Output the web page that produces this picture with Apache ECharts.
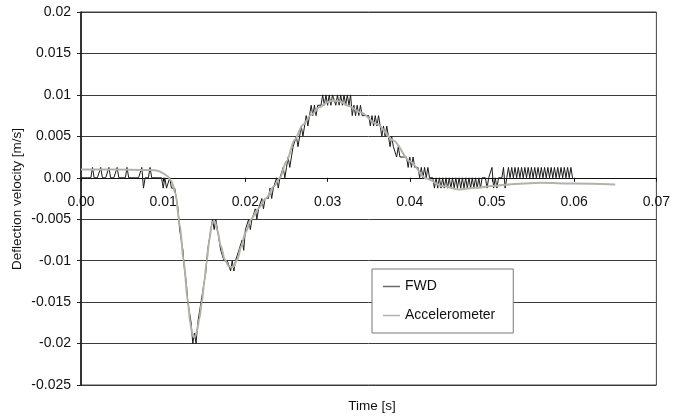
<!DOCTYPE html>
<html>
<head>
<meta charset="utf-8">
<script src="https://cdn.jsdelivr.net/npm/echarts@6/dist/echarts.min.js"></script>
<style>
  html, body { margin: 0; padding: 0; background: #ffffff; }
  #chart { width: 673px; height: 416px; }
</style>
</head>
<body>
<div id="chart"></div>
<script>
// FWD geophone record: one sample every 0.2 ms, quantised in counts of 1.25 mm/s
const FWD_SAMPLE_INTERVAL = 0.0002; // s
const FWD_STEP = 0.00125;           // m/s per count
const fwdCounts = [
  0, 0, 0, 0, 0, 0, 0, 1, 0, 0,
  0, 0, 1, 0, 0, 0, 0, 1, 0, 0,
  0, 0, 1, 0, 0, 0, 0, 0, 1, 0,
  0, 0, 0, 0, 0, 0, 0, 1, -1, 0,
  0, 0, 1, 0, 0, 0, 0, 0, 0, 0,
  -1, 0, -1, -1, 0, -1, -1, -1, -2, -3,
  -5, -6, -7, -9, -10, -12, -13, -14, -16, -15,
  -16, -14, -14, -12, -11, -10, -9, -7, -6, -5,
  -4, -5, -4, -5, -6, -7, -7, -8, -8, -8,
  -8, -9, -8, -9, -8, -8, -7, -7, -6, -7,
  -5, -5, -4, -5, -4, -4, -3, -4, -3, -3,
  -2, -3, -2, -2, -2, -1, -2, -1, -1, 0,
  -1, 0, 0, 1, 0, 1, 2, 1, 2, 3,
  3, 4, 3, 4, 5, 4, 5, 6, 5, 6,
  7, 6, 7, 6, 7, 7, 7, 8, 7, 8,
  7, 8, 7, 8, 8, 7, 8, 7, 8, 7,
  8, 7, 8, 7, 8, 6, 7, 6, 7, 6,
  7, 6, 6, 6, 6, 6, 5, 6, 5, 6,
  5, 6, 5, 4, 5, 4, 5, 4, 3, 4,
  3, 3, 2, 3, 2, 2, 2, 2, 2, 1,
  2, 1, 2, 1, 1, 1, 0, 1, 0, 1,
  0, 1, 0, 0, 0, -1, 0, -1, 0, -1,
  0, -1, 0, -1, 0, -1, 0, -1, 0, -1,
  0, -1, 0, -1, 0, -1, 0, -1, 0, -1,
  0, -1, 0, -1, 0, 0, 0, -1, 0, 0,
  1, -1, 0, -1, 0, 0, 0, 1, -1, 0,
  1, 0, 1, 0, 1, 0, 1, 0, 1, 0,
  1, 0, 1, 0, 1, 0, 1, 0, 1, 0,
  1, 0, 1, 0, 1, 0, 1, 0, 1, 0,
  1, 0, 1, 0, 1, 0, 1, 0, 1, 0
];

// Velocity integrated from the accelerometer signal
const accelTime = [
  0, 0.004, 0.008, 0.009, 0.0095, 0.010, 0.0105, 0.011, 0.0115, 0.012,
  0.0125, 0.013, 0.0133, 0.0135, 0.0137, 0.0139, 0.0141, 0.0144, 0.0147, 0.015,
  0.0153, 0.0156, 0.0159, 0.0161, 0.0163, 0.0166, 0.017, 0.0175, 0.018, 0.0185,
  0.019, 0.0195, 0.02, 0.0207, 0.0215, 0.0225, 0.0235, 0.0242, 0.025, 0.026,
  0.027, 0.028, 0.029, 0.03, 0.0306, 0.0315, 0.0325, 0.034, 0.036, 0.038,
  0.04, 0.042, 0.044, 0.046, 0.048, 0.05, 0.052, 0.056, 0.06, 0.065
];
const accelVelocity = [
  0.001, 0.001, 0.00095, 0.0009, 0.0008, 0.00055, 0.0002, -0.0004, -0.0019, -0.0056,
  -0.0101, -0.015, -0.0176, -0.0187, -0.0192, -0.0191, -0.0185, -0.017, -0.015, -0.0126,
  -0.01, -0.0076, -0.0057, -0.0052, -0.0053, -0.0064, -0.0082, -0.0099, -0.0107, -0.0108,
  -0.0099, -0.0083, -0.0066, -0.005, -0.0038, -0.0025, -0.001, 0, 0.002, 0.0046,
  0.0064, 0.0076, 0.0085, 0.0091, 0.0093, 0.0092, 0.0087, 0.0079, 0.0065, 0.0045,
  0.002, -0.0001, -0.001, -0.0014, -0.0012, -0.001, -0.0008, -0.0006, -0.0007, -0.0008
];

const seriesNames = ['FWD', 'Accelerometer'];
const xTickLabels = ['0.00', '0.01', '0.02', '0.03', '0.04', '0.05', '0.06', '0.07'];
const yTickLabels = ['-0.025', '-0.02', '-0.015', '-0.01', '-0.005', '0.00', '0.005', '0.01', '0.015', '0.02'];
const xTitle = 'Time [s]';
const yTitle = 'Deflection velocity [m/s]';

const fwdData = fwdCounts.map((c, i) => [i * FWD_SAMPLE_INTERVAL, c * FWD_STEP]);
const accelData = accelTime.map((t, i) => [t, accelVelocity[i]]);

const FONT = '"Liberation Sans", Arial, Helvetica, sans-serif';
const FWD_COLOR = '#1c1c1c';
const ACCEL_COLOR = '#b3b1a9';

const chart = echarts.init(document.getElementById('chart'), null, { renderer: 'canvas' });
chart.setOption({
  animation: false,
  backgroundColor: '#ffffff',
  grid: {
    left: 81, right: 11, top: 12, bottom: 31,
    show: true, borderColor: '#444444', borderWidth: 1, backgroundColor: 'transparent'
  },
  xAxis: {
    type: 'value',
    min: 0, max: 0.07, interval: 0.01,
    offset: 0,
    axisLine: { onZero: false, lineStyle: { color: '#111111', width: 1 } },
    axisTick: { show: true, inside: false, length: 4, lineStyle: { color: '#111111' } },
    axisLabel: {
      margin: 17, color: '#111111', fontSize: 14, fontFamily: FONT,
      showMinLabel: true, showMaxLabel: true,
      formatter: (v, i) => xTickLabels[i]
    },
    splitLine: { show: false }
  },
  yAxis: {
    type: 'value',
    min: -0.025, max: 0.02, interval: 0.005,
    axisLine: { show: true, onZero: false, lineStyle: { color: '#111111', width: 1.5 } },
    axisTick: { show: true, inside: false, length: 4, lineStyle: { color: '#222222' } },
    axisLabel: {
      margin: 10, color: '#111111', fontSize: 14, fontFamily: FONT,
      showMinLabel: true, showMaxLabel: true,
      formatter: (v, i) => yTickLabels[i]
    },
    splitLine: { show: true, lineStyle: { color: '#3c3c3c', width: 1 } }
  },
  legend: {
    orient: 'vertical',
    left: 372, top: 269,
    padding: [10, 18, 10, 11],
    itemGap: 14,
    icon: 'rect',
    itemWidth: 17, itemHeight: 1.5,
    backgroundColor: '#ffffff',
    borderColor: '#777777', borderWidth: 1,
    textStyle: { fontSize: 14, fontFamily: FONT, color: '#111111', lineHeight: 15 },
    data: [
      { name: seriesNames[0], itemStyle: { color: '#6a6a6a' } },
      { name: seriesNames[1], itemStyle: { color: ACCEL_COLOR } }
    ]
  },
  series: [
    {
      name: seriesNames[0],
      type: 'line',
      data: fwdData,
      symbol: 'none',
      lineStyle: { color: FWD_COLOR, width: 1 },
      itemStyle: { color: FWD_COLOR },
      z: 2
    },
    {
      name: seriesNames[1],
      type: 'line',
      data: accelData,
      symbol: 'none',
      smooth: 0.3,
      smoothMonotone: 'x',
      lineStyle: { color: ACCEL_COLOR, width: 2 },
      itemStyle: { color: ACCEL_COLOR },
      z: 3
    }
  ],
  graphic: [
    {
      type: 'text', x: 372, y: 406,
      style: { text: xTitle, fontSize: 13.5, fontFamily: FONT, fill: '#111111', align: 'center', verticalAlign: 'middle' }
    },
    {
      type: 'text', x: 17, y: 199, rotation: Math.PI / 2,
      style: { text: yTitle, fontSize: 13.5, fontFamily: FONT, fill: '#111111', align: 'center', verticalAlign: 'middle' }
    }
  ]
});

// Lift the time axis (line, ticks and labels) up to the zero-velocity line
const zeroY = chart.convertToPixel({ yAxisIndex: 0 }, 0);
const bottomY = chart.convertToPixel({ yAxisIndex: 0 }, -0.025);
chart.setOption({ xAxis: { offset: -(bottomY - zeroY) } });
</script>
</body>
</html>
